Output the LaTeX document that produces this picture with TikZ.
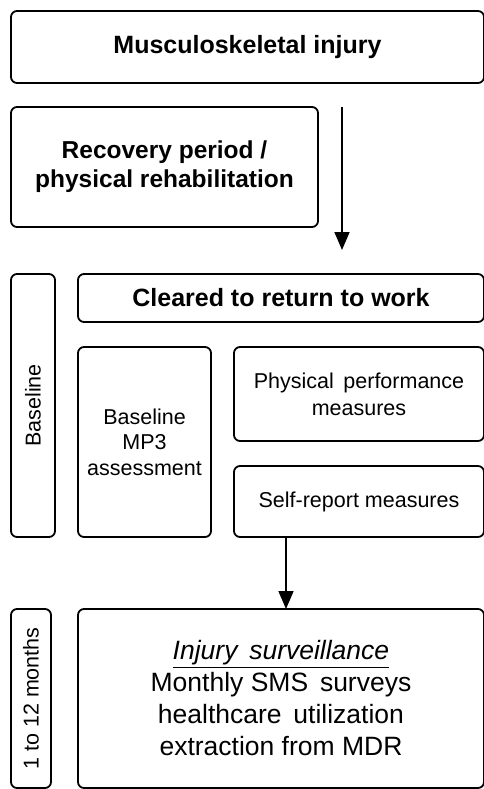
\documentclass[tikz,border=0pt]{standalone}
\usepackage{fontspec}
\setmainfont{Liberation Sans}
\usetikzlibrary{arrows.meta}

\begin{document}
\begin{tikzpicture}[x=1pt,y=-1pt,
  box/.style={draw,line width=1.8pt,rounded corners=6pt,inner sep=0pt,outer sep=0pt,align=center},
  head/.style={font=\fontsize{25}{29}\selectfont\bfseries},
  body/.style={font=\fontsize{21.5}{25.5}\selectfont},
  arr/.style={line width=1.7pt,-{Triangle[width=15pt,length=18pt]}}]
\useasboundingbox (0,0) rectangle (484,789);

% injury and recovery
\node[box,head,minimum width=473pt,minimum height=72pt] (musc) at (247.5,47) {Musculoskeletal injury};
\node[box,head,font=\fontsize{24.5}{29}\selectfont\bfseries,minimum width=307pt,minimum height=120pt] (recov) at (164.5,167) {Recovery period /\\physical rehabilitation};
\coordinate (downtop) at (342,107);
\coordinate (downend) at (342,250);
\draw[arr] (downtop) -- (downend);

% baseline
\node[box,minimum width=44pt,minimum height=263pt] (base) at (33,405.5) {};
\node[body,rotate=90] (basetxt) at (base.center) {Baseline};
\node[box,head,minimum width=406pt,minimum height=48pt] (clear) at (281,298) {Cleared to return to work};
\node[box,body,minimum width=133pt,minimum height=190pt] (mp3) at (144.5,442) {Baseline\\MP3\\assessment};
\node[box,body,font=\fontsize{21.5}{27}\selectfont,minimum width=250pt,minimum height=94pt] (phys) at (359,394) {Physical\, performance\\measures};
\node[box,body,minimum width=250pt,minimum height=71pt] (self) at (359,501.5) {Self-report measures};

% follow up
\node[box,minimum width=40pt,minimum height=179pt] (months) at (31,698.5) {};
\node[body,rotate=90] (monthstxt) at (months.center) {1 to 12 months};
\node[box,font=\fontsize{26.5}{32}\selectfont,minimum width=406pt,minimum height=179pt] (surv) at (281,698.5)
  {\underline{\textit{Injury\, surveillance}}\\Monthly SMS\, surveys\\healthcare\, utilization\\extraction from MDR};
\draw[arr] ([xshift=52pt]self.south west) -- ([xshift=52pt]self.south west |- surv.north);
\end{tikzpicture}
\end{document}
